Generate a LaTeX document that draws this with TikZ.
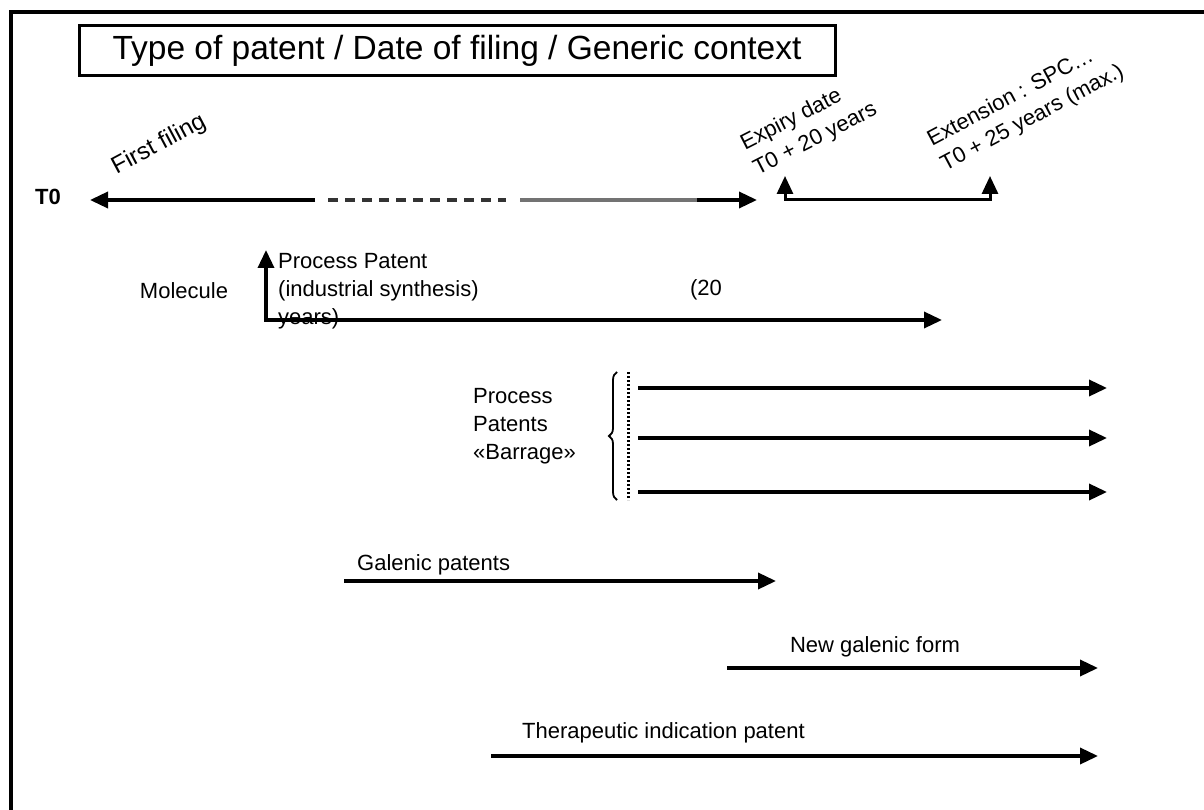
\documentclass[tikz,border=0pt]{standalone}
\usepackage{fontspec}
\setmainfont{Liberation Sans}
\usepackage{tikz}
\usetikzlibrary{arrows.meta}
\usetikzlibrary{decorations.pathreplacing}

\begin{document}
\begin{tikzpicture}[x=1pt, y=-1pt, >={Triangle[length=18pt,width=16pt]},
  txt/.style={inner sep=0pt, align=left, font=\fontsize{22}{28}\selectfont},
  ln/.style={line width=3.5pt}]

  \useasboundingbox (0,0) rectangle (1204,810);
  \draw [line width=4pt] (11,814) -- (11,12) -- (1208,12);

  \node [draw, line width=3pt, inner sep=0pt, minimum width=756pt, minimum height=50pt,
         font=\fontsize{33.5}{38}\selectfont] (title) at (457,51) {Type of patent / Date of filing / Generic context};

  % time axis
  \node [txt, font=\bfseries\fontsize{22}{26}\selectfont] (T0) at (48,197) {T0};
  \coordinate (a0) at (90,200);
  \coordinate (a1) at (315,200);
  \coordinate (a2) at (328,200);
  \coordinate (a3) at (506,200);
  \coordinate (a4) at (520,200);
  \coordinate (a5) at (697,200);
  \coordinate (a6) at (757,200);
  \draw [ln,->] (a1) -- (a0);
  \draw [ln,black!80,dash pattern=on 10pt off 7pt] (a2) -- (a3);
  \draw [ln,black!55] (a4) -- (a5);
  \draw [ln,->] (a5) -- (a6);

  \node [txt, rotate=28, font=\fontsize{24}{28}\selectfont] (first) at (159,145) {First filing};
  \node [txt, rotate=27] (expiry) at (809,127) {Expiry date\\T0 + 20 years};
  \node [txt, rotate=28] (ext) at (1026,106) {Extension : SPC…\\T0 + 25 years (max.)};

  \coordinate (e1) at (785,176);
  \coordinate (e2) at (785,200);
  \coordinate (e3) at (990,200);
  \coordinate (e4) at (990,176);
  \draw [line width=3pt,<->] (e1) -- (e2) -- (e3) -- (e4);

  % molecule / process patent
  \node [txt] (mol) at (184,291) {Molecule};
  \node [txt, anchor=west] (proc) at (278,291) {Process Patent\\(industrial synthesis)\\years)};
  \node [txt] (twenty) at (706,290) {(20};
  \coordinate (p0) at (266,250);
  \coordinate (p1) at (266,320);
  \coordinate (p2) at (942,320);
  \draw [ln,<->] (p0) -- (p1) -- (p2);

  % barrage
  \node [txt, anchor=west] (barrage) at (473,426) {Process\\Patents\\«Barrage»};
  \coordinate (b1) at (617,500);
  \coordinate (b2) at (617,372);
  \draw [decorate, decoration={brace, amplitude=8pt}, line width=1.8pt] (b1) -- (b2);
  \coordinate (d1) at (628,372);
  \coordinate (d2) at (628,500);
  \draw [line width=3pt, dash pattern=on 2pt off 2pt] (d1) -- (d2);
  \coordinate (r1) at (638,388);
  \coordinate (s1) at (1107,388);
  \coordinate (r2) at (638,438);
  \coordinate (s2) at (1107,438);
  \coordinate (r3) at (638,492);
  \coordinate (s3) at (1107,492);
  \draw [ln,->] (r1) -- (s1);
  \draw [ln,->] (r2) -- (s2);
  \draw [ln,->] (r3) -- (s3);

  % galenic / therapeutic
  \node [txt, anchor=west] (gal) at (357,565) {Galenic patents};
  \coordinate (g0) at (344,581);
  \coordinate (g1) at (776,581);
  \draw [ln,->] (g0) -- (g1);

  \node [txt] (newgal) at (875,647) {New galenic form};
  \coordinate (n0) at (727,668);
  \coordinate (n1) at (1098,668);
  \draw [ln,->] (n0) -- (n1);

  \node [txt, anchor=west] (ther) at (522,733) {Therapeutic indication patent};
  \coordinate (t0) at (491,756);
  \coordinate (t1) at (1098,756);
  \draw [ln,->] (t0) -- (t1);
\end{tikzpicture}
\end{document}
